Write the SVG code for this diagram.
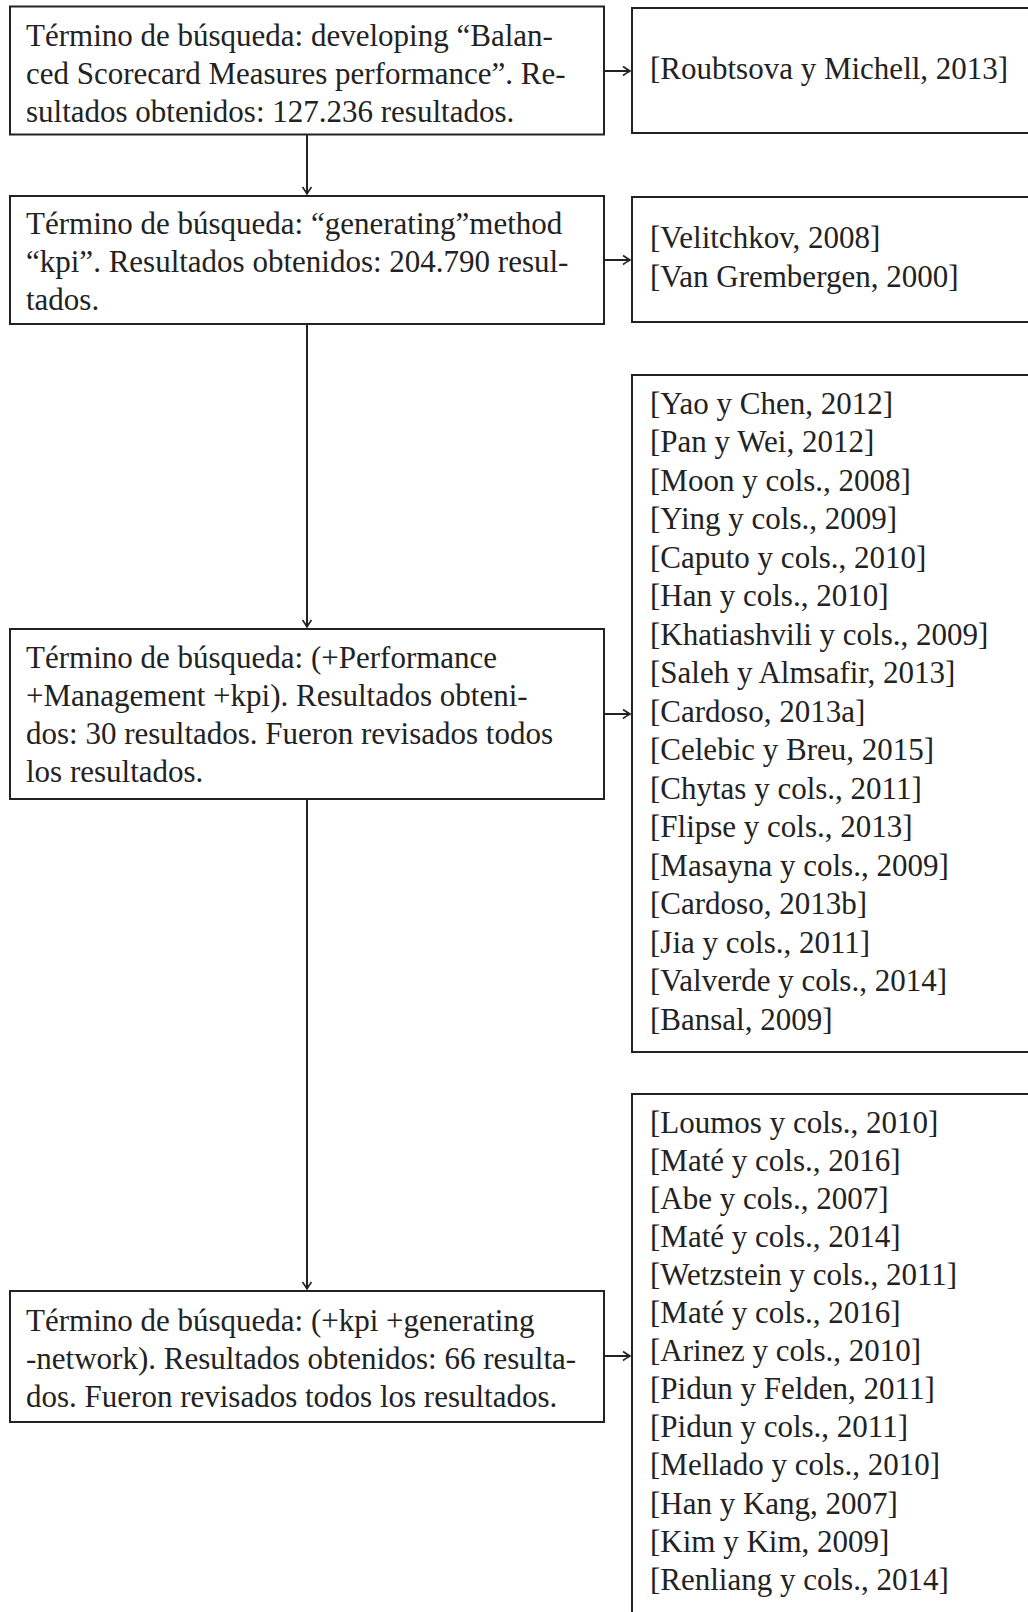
<svg xmlns="http://www.w3.org/2000/svg" width="1028" height="1612" viewBox="0 0 1028 1612">
<style>
.box{fill:#fff;stroke:#222;stroke-width:2}
.t{font-family:"Liberation Serif","Times New Roman",serif;font-size:31px;fill:#222}
.c{fill:none;stroke:#222;stroke-width:2}
</style>
<defs>
<marker id="ah" markerUnits="userSpaceOnUse" markerWidth="14" markerHeight="14" viewBox="-10 -7 12 14" refX="0" refY="0" orient="auto">
<path d="M-7,-4.5 Q-2,-1 0,0 Q-2,1 -7,4.5" fill="none" stroke="#222" stroke-width="1.6"/>
</marker>
</defs>
<rect width="1028" height="1612" fill="#fff"/>
<g id="connectors">
<line class="c" x1="307" y1="135" x2="307" y2="194" marker-end="url(#ah)"/>
<line class="c" x1="307" y1="324" x2="307" y2="627" marker-end="url(#ah)"/>
<line class="c" x1="307" y1="799" x2="307" y2="1289" marker-end="url(#ah)"/>
<line class="c" x1="604" y1="71" x2="630" y2="71" marker-end="url(#ah)"/>
<line class="c" x1="604" y1="260" x2="630" y2="260" marker-end="url(#ah)"/>
<line class="c" x1="604" y1="714" x2="630" y2="714" marker-end="url(#ah)"/>
<line class="c" x1="604" y1="1356" x2="630" y2="1356" marker-end="url(#ah)"/>
</g>
<g id="q1">
<rect class="box" x="10" y="6.5" width="594" height="128"/>
<text class="t"><tspan x="26" y="46">Término de búsqueda: developing “Balan-</tspan><tspan x="26" y="84">ced Scorecard Measures performance”. Re-</tspan><tspan x="26" y="122">sultados obtenidos: 127.236 resultados.</tspan></text>
</g>
<g id="q2">
<rect class="box" x="10" y="196" width="594" height="128"/>
<text class="t"><tspan x="26" y="233.5">Término de búsqueda: “generating”method</tspan><tspan x="26" y="271.5">“kpi”. Resultados obtenidos: 204.790 resul-</tspan><tspan x="26" y="309.5">tados.</tspan></text>
</g>
<g id="q3">
<rect class="box" x="10" y="629" width="594" height="170"/>
<text class="t"><tspan x="26" y="668">Término de búsqueda: (+Performance</tspan><tspan x="26" y="706">+Management +kpi). Resultados obteni-</tspan><tspan x="26" y="744">dos: 30 resultados. Fueron revisados todos</tspan><tspan x="26" y="782">los resultados.</tspan></text>
</g>
<g id="q4">
<rect class="box" x="10" y="1291" width="594" height="131"/>
<text class="t"><tspan x="26" y="1331">Término de búsqueda: (+kpi +generating</tspan><tspan x="26" y="1369">-network). Resultados obtenidos: 66 resulta-</tspan><tspan x="26" y="1407">dos. Fueron revisados todos los resultados.</tspan></text>
</g>
<g id="r1">
<rect class="box" x="632" y="8" width="420" height="125"/>
<text class="t" x="650" y="79">[Roubtsova y Michell, 2013]</text>
</g>
<g id="r2">
<rect class="box" x="632" y="197" width="420" height="125"/>
<text class="t"><tspan x="650" y="248">[Velitchkov, 2008]</tspan><tspan x="650" y="287">[Van Grembergen, 2000]</tspan></text>
</g>
<g id="r3">
<rect class="box" x="632" y="375" width="420" height="677"/>
<text class="t"><tspan x="650" y="413.5">[Yao y Chen, 2012]</tspan><tspan x="650" y="452">[Pan y Wei, 2012]</tspan><tspan x="650" y="490.5">[Moon y cols., 2008]</tspan><tspan x="650" y="529">[Ying y cols., 2009]</tspan><tspan x="650" y="567.5">[Caputo y cols., 2010]</tspan><tspan x="650" y="606">[Han y cols., 2010]</tspan><tspan x="650" y="644.5">[Khatiashvili y cols., 2009]</tspan><tspan x="650" y="683">[Saleh y Almsafir, 2013]</tspan><tspan x="650" y="721.5">[Cardoso, 2013a]</tspan><tspan x="650" y="760">[Celebic y Breu, 2015]</tspan><tspan x="650" y="798.5">[Chytas y cols., 2011]</tspan><tspan x="650" y="837">[Flipse y cols., 2013]</tspan><tspan x="650" y="875.5">[Masayna y cols., 2009]</tspan><tspan x="650" y="914">[Cardoso, 2013b]</tspan><tspan x="650" y="952.5">[Jia y cols., 2011]</tspan><tspan x="650" y="991">[Valverde y cols., 2014]</tspan><tspan x="650" y="1029.5">[Bansal, 2009]</tspan></text>
</g>
<g id="r4">
<rect class="box" x="632" y="1094" width="420" height="560"/>
<text class="t"><tspan x="650" y="1132.5">[Loumos y cols., 2010]</tspan><tspan x="650" y="1170.6">[Maté y cols., 2016]</tspan><tspan x="650" y="1208.7">[Abe y cols., 2007]</tspan><tspan x="650" y="1246.8">[Maté y cols., 2014]</tspan><tspan x="650" y="1284.9">[Wetzstein y cols., 2011]</tspan><tspan x="650" y="1323">[Maté y cols., 2016]</tspan><tspan x="650" y="1361.1">[Arinez y cols., 2010]</tspan><tspan x="650" y="1399.2">[Pidun y Felden, 2011]</tspan><tspan x="650" y="1437.3">[Pidun y cols., 2011]</tspan><tspan x="650" y="1475.4">[Mellado y cols., 2010]</tspan><tspan x="650" y="1513.5">[Han y Kang, 2007]</tspan><tspan x="650" y="1551.6">[Kim y Kim, 2009]</tspan><tspan x="650" y="1589.7">[Renliang y cols., 2014]</tspan></text>
</g>
</svg>
